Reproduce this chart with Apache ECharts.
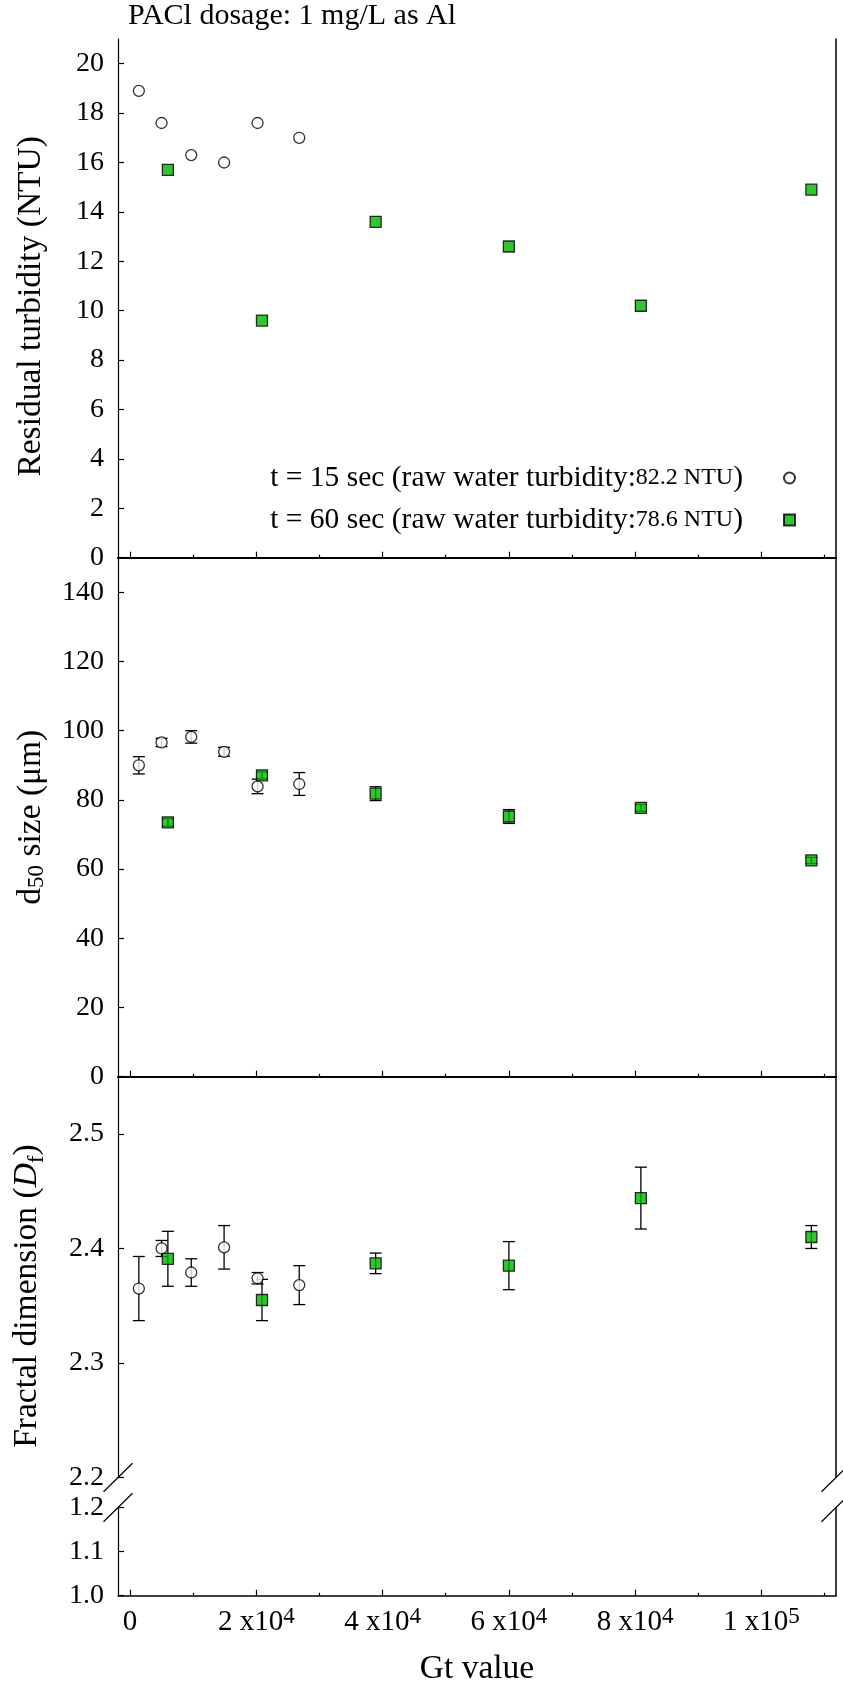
<!DOCTYPE html>
<html>
<head>
<meta charset="utf-8">
<script src="https://cdn.jsdelivr.net/npm/echarts@6/dist/echarts.min.js"></script>
<style>
  html, body { margin: 0; padding: 0; background: #fff; }
  #main { width: 843px; height: 1689px; }
</style>
</head>
<body>
<div id="main"></div>
<script>
// Gt values of the two data sets
const gt15 = [1400, 5000, 9700, 14900, 20200, 26800]
const gt60 = [6000, 20900, 38900, 60000, 80900, 107900]

// residual turbidity (NTU)
const turb15 = [18.9, 17.6, 16.3, 16.0, 17.6, 17.0]
const turb60 = [15.7, 9.6, 13.6, 12.6, 10.2, 14.9]

// d50 size (um) and error
const d50_15 = [90.0, 96.6, 98.2, 93.9, 83.9, 84.6]
const d50_15err = [2.5, 1.2, 1.8, 1.3, 2.1, 3.3]
const d50_60 = [73.5, 87.1, 81.8, 75.2, 77.7, 62.5]
const d50_60err = [1.1, 1.0, 2.0, 2.0, 1.0, 0.9]

// fractal dimension and error
const df15 = [2.365, 2.400, 2.379, 2.401, 2.374, 2.368]
const df15err = [0.028, 0.007, 0.012, 0.019, 0.005, 0.017]
const df60 = [2.391, 2.355, 2.387, 2.385, 2.444, 2.410]
const df60err = [0.024, 0.018, 0.009, 0.021, 0.027, 0.010]

// x ticks
const xMajor = [0, 20000, 40000, 60000, 80000, 100000]
const xMinor = [10000, 30000, 50000, 70000, 90000, 110000]
const xTickText = ['0', '2 x10', '4 x10', '6 x10', '8 x10', '1 x10']
const xTickPow = ['', '4', '4', '4', '4', '5']

const seriesNames = ['t = 15 sec', 't = 60 sec']
const legendMain = ['t = 15 sec (raw water turbidity:', 't = 60 sec (raw water turbidity:']
const legendSmall = ['82.2 NTU', '78.6 NTU']

const FONT = 'Liberation Serif'
const GREEN = '#00b400'
const LEFT = 118
const RIGHT = 7
const tops = [39, 557.7, 1076.7, 1507.5]
const heights = [518.7, 519, 400.8, 88.2]
const xMin = -1900
const xMax = 111800

const chart = echarts.init(document.getElementById('main'))

function errRender (params, api) {
  const x = api.value(0)
  const p1 = api.coord([x, api.value(2)])
  const p2 = api.coord([x, api.value(1)])
  const w = 6
  const st = { stroke: '#000', lineWidth: 1.3 }
  return {
    type: 'group',
    children: [
      { type: 'line', shape: { x1: p1[0], y1: p1[1], x2: p2[0], y2: p2[1] }, style: st },
      { type: 'line', shape: { x1: p1[0] - w, y1: p1[1], x2: p1[0] + w, y2: p1[1] }, style: st },
      { type: 'line', shape: { x1: p2[0] - w, y1: p2[1], x2: p2[0] + w, y2: p2[1] }, style: st }
    ]
  }
}

function errData (xs, vals, errs) {
  return xs.map((g, k) => [g, vals[k] - errs[k], vals[k] + errs[k]])
}

function pts (xs, vals) {
  return xs.map((g, k) => [g, vals[k]])
}

const xAxes = []
for (let i = 0; i < 4; i++) {
  xAxes.push({
    gridIndex: i,
    type: 'value',
    position: 'bottom',
    min: xMin,
    max: xMax,
    axisLine: { show: i !== 2, onZero: false, lineStyle: { color: '#000', width: i < 2 ? 2 : 1.5 } },
    axisTick: { show: i !== 2, inside: true, length: 6, customValues: xMajor, lineStyle: { color: '#000', width: 1.2 } },
    axisLabel: {
      show: i === 3,
      customValues: xMajor,
      margin: 10,
      color: '#000',
      fontFamily: FONT,
      fontSize: 29,
      formatter: function (v) {
        const k = xMajor.indexOf(v)
        if (k < 0) return ''
        if (!xTickPow[k]) return '{m|' + xTickText[k] + '}'
        return '{m|' + xTickText[k] + '}{s|' + xTickPow[k] + '}'
      },
      rich: {
        m: { fontFamily: FONT, fontSize: 29, color: '#000', lineHeight: 34 },
        s: { fontFamily: FONT, fontSize: 23, color: '#000', lineHeight: 22, verticalAlign: 'top' }
      }
    },
    splitLine: { show: false },
    name: i === 3 ? 'Gt value' : '',
    nameLocation: 'middle',
    nameGap: 57,
    nameTextStyle: { fontFamily: FONT, fontSize: 33.5, color: '#000' }
  })
  xAxes.push({
    gridIndex: i,
    type: 'value',
    position: 'bottom',
    min: xMin,
    max: xMax,
    axisLine: { show: false },
    axisTick: { show: i !== 2, inside: true, length: 3, customValues: xMinor, lineStyle: { color: '#000', width: 1.2 } },
    axisLabel: { show: false },
    splitLine: { show: false }
  })
}
// top frame line of the first panel
xAxes.push({
  gridIndex: 0, type: 'value', position: 'top', min: xMin, max: xMax,
  axisLine: { show: true, lineStyle: { color: '#000', width: 1.2 } },
  axisTick: { show: false }, axisLabel: { show: false }, splitLine: { show: false }
})

const yCfg = [
  { min: 0, max: 21, interval: 2, name: 'Residual turbidity (NTU)', dec: 0, maxLabel: false, pad: [0, 16, 0, 0] },
  { min: 0, max: 150, interval: 20, name: 'd{sub|50} size (μm)', dec: 0, maxLabel: false, pad: [0, 0, 0, 0] },
  { min: 2.2, max: 2.55, interval: 0.1, name: 'Fractal dimension ({it|D}{sub|f})', dec: 1, maxLabel: false, pad: [0, 38, 0, 0] },
  { min: 1.0, max: 1.2, interval: 0.1, name: '', dec: 1, maxLabel: true, pad: [0, 0, 0, 0] }
]

const yAxes = []
yCfg.forEach((c, i) => {
  yAxes.push({
    gridIndex: i,
    type: 'value',
    position: 'left',
    min: c.min,
    max: c.max,
    interval: c.interval,
    axisLine: { show: true, onZero: false, lineStyle: { color: '#000', width: 1.2 } },
    axisTick: { inside: true, length: 6, lineStyle: { color: '#000', width: 1.2 } },
    axisLabel: {
      margin: 14, color: '#000', fontFamily: FONT, fontSize: 28,
      showMaxLabel: c.maxLabel,
      formatter: v => Number(v).toFixed(c.dec)
    },
    splitLine: { show: false },
    name: c.name,
    nameLocation: 'middle',
    nameRotate: 90,
    nameGap: 70,
    nameTextStyle: {
      fontFamily: FONT, fontSize: 33.5, color: '#000', padding: c.pad,
      rich: {
        sub: { fontFamily: FONT, fontSize: 23, color: '#000', lineHeight: 22, verticalAlign: 'bottom' },
        it: { fontFamily: FONT, fontSize: 33.5, fontStyle: 'italic', color: '#000', lineHeight: 42 }
      }
    }
  })
  yAxes.push({
    gridIndex: i,
    type: 'value',
    position: 'right',
    min: c.min,
    max: c.max,
    axisLine: { show: true, onZero: false, lineStyle: { color: '#000', width: 1.5 } },
    axisTick: { show: false },
    axisLabel: { show: false },
    splitLine: { show: false }
  })
})

const circleStyle = { color: '#fff', borderColor: '#000', borderWidth: 1.3 }
const squareStyle = { color: GREEN, borderColor: '#000', borderWidth: 1.3 }

function scatter (name, grid, data, isSquare) {
  return {
    name: name,
    type: 'scatter',
    xAxisIndex: grid * 2,
    yAxisIndex: grid * 2,
    symbol: isSquare ? 'rect' : 'circle',
    symbolSize: 11,
    itemStyle: isSquare ? squareStyle : circleStyle,
    data: data,
    z: 5
  }
}

function errSeries (grid, data) {
  return {
    name: 'err',
    type: 'custom',
    xAxisIndex: grid * 2,
    yAxisIndex: grid * 2,
    renderItem: errRender,
    encode: { x: 0, y: [1, 2] },
    data: data,
    z: 3
  }
}

// break marks on the lower panel
const gBottom = tops[2] + heights[2]
const gTop = tops[3]
const xR = 843 - RIGHT
const breaks = []
;[LEFT, xR].forEach(x => {
  ;[gBottom, gTop].forEach(y => {
    breaks.push({
      type: 'line',
      shape: { x1: x - 14.5, y1: y + 14.2, x2: x + 14.5, y2: y - 14.2 },
      style: { stroke: '#000', lineWidth: 1.2 },
      z: 100
    })
  })
})

const option = {
  animation: false,
  backgroundColor: '#fff',
  title: {
    text: 'PACl dosage: 1 mg/L as Al',
    left: 128,
    top: 1,
    padding: 0,
    textStyle: { fontFamily: FONT, fontSize: 30, fontWeight: 'normal', color: '#000' }
  },
  legend: {
    right: 47,
    top: 463,
    orient: 'vertical',
    align: 'right',
    padding: 0,
    itemWidth: 11,
    itemHeight: 11,
    itemGap: 12,
    selectedMode: false,
    data: seriesNames,
    formatter: function (name) {
      const k = seriesNames.indexOf(name)
      return '{a|' + legendMain[k] + '}{b|' + legendSmall[k] + '}{a|)}'
    },
    textStyle: {
      fontFamily: FONT, color: '#000', padding: [0, 36, 0, 0],
      rich: {
        a: { fontFamily: FONT, fontSize: 29.5, color: '#000', lineHeight: 31 },
        b: { fontFamily: FONT, fontSize: 24, color: '#000', lineHeight: 31 }
      }
    }
  },
  grid: tops.map((t, i) => ({ left: LEFT, right: RIGHT, top: t, height: heights[i] })),
  xAxis: xAxes,
  yAxis: yAxes,
  graphic: breaks,
  series: [
    scatter(seriesNames[0], 0, pts(gt15, turb15), false),
    scatter(seriesNames[1], 0, pts(gt60, turb60), true),
    errSeries(1, errData(gt15, d50_15, d50_15err)),
    errSeries(1, errData(gt60, d50_60, d50_60err)),
    scatter(seriesNames[0], 1, pts(gt15, d50_15), false),
    scatter(seriesNames[1], 1, pts(gt60, d50_60), true),
    errSeries(2, errData(gt15, df15, df15err)),
    errSeries(2, errData(gt60, df60, df60err)),
    scatter(seriesNames[0], 2, pts(gt15, df15), false),
    scatter(seriesNames[1], 2, pts(gt60, df60), true)
  ]
}

chart.setOption(option)
</script>
</body>
</html>
